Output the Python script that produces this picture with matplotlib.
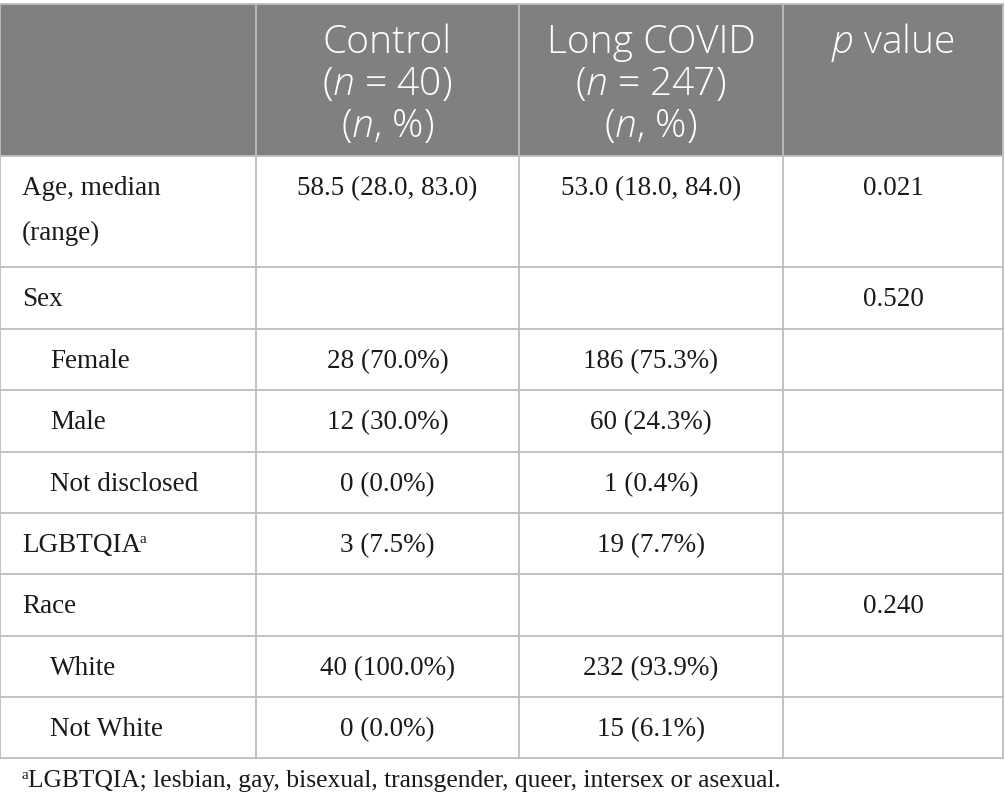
import matplotlib
matplotlib.use("Agg")
import matplotlib.pyplot as plt

#%% Data

header = ["Control\n($\\mathit{n}$ = 40)\n($\\mathit{n}$, %)",
          "Long COVID\n($\\mathit{n}$ = 247)\n($\\mathit{n}$, %)",
          "$\\mathit{p}$ value"]
row_labels = ["Age, median\n(range)", "Sex", "Female", "Male", "Not disclosed",
              "LGBTQIA", "Race", "White", "Not White"]
indented = [False, False, True, True, True, False, False, True, True]
control = ["58.5 (28.0, 83.0)", "", "28 (70.0%)", "12 (30.0%)", "0 (0.0%)",
           "3 (7.5%)", "", "40 (100.0%)", "0 (0.0%)"]
long_covid = ["53.0 (18.0, 84.0)", "", "186 (75.3%)", "60 (24.3%)", "1 (0.4%)",
              "19 (7.7%)", "", "232 (93.9%)", "15 (6.1%)"]
p_values = ["0.021", "0.520", "", "", "", "", "0.240", "", ""]
footnote = "LGBTQIA; lesbian, gay, bisexual, transgender, queer, intersex or asexual."

#%% Layout (pixels)

W, H = 1005, 811
col_x = [0, 256, 519, 783, 1003]
row_y = [4, 156, 267, 329, 390, 452, 513, 574, 636, 697, 758]

plt.rcParams['mathtext.fontset'] = 'custom'
plt.rcParams['mathtext.it'] = 'Open Sans:italic:light'
plt.rcParams['mathtext.rm'] = 'Open Sans:light'

fig = plt.figure(figsize=(W / 100, H / 100), dpi=100)
ax = fig.add_axes([0, 0, 1, 1])
ax.set_xlim(0, W)
ax.set_ylim(H, 0)
ax.axis('off')

grid = '#bdbdbd'
txt = '#1a1a1a'
serif = 'Liberation Serif'
fs = 19.5

# header band
ax.add_patch(plt.Rectangle((col_x[0], row_y[0]), col_x[-1] - col_x[0], row_y[1] - row_y[0],
                           facecolor='#808080', edgecolor='none'))

# grid lines
for y in row_y:
    ax.plot([col_x[0], col_x[-1]], [y, y], color=grid, lw=1.3)
for x in col_x:
    ax.plot([x, x], [row_y[0], row_y[-1]], color=grid, lw=1.3)

# header text, one line at a time
for j, h in enumerate(header):
    cx = (col_x[j + 1] + col_x[j + 2]) / 2
    for k, line in enumerate(h.split("\n")):
        ax.text(cx, 53 + 42 * k, line, ha='center', va='baseline', color='white',
                fontsize=28, family='Open Sans', fontweight='light')

# body
sup_rows = []
for i in range(len(row_labels)):
    base = row_y[i + 1] + 39
    lx = 50 if indented[i] else 22
    for k, line in enumerate(row_labels[i].split("\n")):
        t = ax.text(lx, base + 45 * k, line, ha='left', va='baseline', color=txt,
                    fontsize=fs, family=serif)
    if row_labels[i] == "LGBTQIA":
        sup_rows.append((t, base))
    for j, vals in enumerate([control, long_covid, p_values]):
        cx = (col_x[j + 1] + col_x[j + 2]) / 2
        ax.text(cx, base, vals[i], ha='center', va='baseline', color=txt,
                fontsize=fs, family=serif)

# superscript "a" after LGBTQIA
fig.canvas.draw()
inv = ax.transData.inverted()
for t, base in sup_rows:
    bb = t.get_window_extent()
    x_end = inv.transform((bb.x1, bb.y0))[0]
    ax.text(x_end - 2, base - 9, "a", ha='left', va='baseline', color=txt,
            fontsize=11, family=serif)

# footnote
ax.text(22, 779, "a", ha='left', va='baseline', color=txt, fontsize=11, family=serif)
ax.text(28, 787, footnote, ha='left', va='baseline', color=txt, fontsize=18.4, family=serif)

fig.savefig("out.png", dpi=100)
